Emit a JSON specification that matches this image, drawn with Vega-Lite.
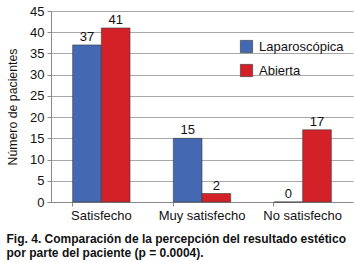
{
  "$schema": "https://vega.github.io/schema/vega-lite/v6.json",
  "width": 302,
  "height": 191,
  "autosize": {"type": "none"},
  "padding": {"left": 51, "top": 11, "right": 1, "bottom": 60},
  "background": "white",
  "config": {
    "font": "Liberation Sans",
    "view": {"stroke": null},
    "axis": {"labelFont": "Liberation Sans", "titleFont": "Liberation Sans"}
  },
  "title": {
    "text": ["Fig. 4. Comparación de la percepción del resultado estético", "por parte del paciente (p = 0.0004)."],
    "orient": "bottom",
    "anchor": "start",
    "frame": "bounds",
    "fontSize": 12,
    "fontWeight": "bold",
    "color": "#111",
    "font": "Liberation Sans",
    "offset": 12,
    "dx": 0,
    "lineHeight": 14
  },
  "data": {
    "values": [
      {"cat": "Satisfecho", "grupo": "Laparoscópica", "n": 37},
      {"cat": "Satisfecho", "grupo": "Abierta", "n": 41},
      {"cat": "Muy satisfecho", "grupo": "Laparoscópica", "n": 15},
      {"cat": "Muy satisfecho", "grupo": "Abierta", "n": 2},
      {"cat": "No satisfecho", "grupo": "Laparoscópica", "n": 0},
      {"cat": "No satisfecho", "grupo": "Abierta", "n": 17}
    ]
  },
  "encoding": {
    "x": {
      "field": "cat",
      "type": "nominal",
      "sort": ["Satisfecho", "Muy satisfecho", "No satisfecho"],
      "scale": {"paddingInner": 0.43, "paddingOuter": 0.215},
      "axis": {
        "title": null,
        "labelAngle": 0,
        "labelFontSize": 13,
        "labelColor": "#111",
        "labelPadding": 3,
        "domainColor": "#888",
        "tickColor": "#888",
        "tickSize": 4,
        "bandPosition": 0,
        "ticks": true
      }
    },
    "xOffset": {
      "field": "grupo",
      "type": "nominal",
      "sort": ["Laparoscópica", "Abierta"],
      "scale": {"paddingInner": 0, "paddingOuter": 0}
    },
    "y": {
      "field": "n",
      "type": "quantitative",
      "scale": {"domain": [0, 45]},
      "axis": {
        "title": "Número de pacientes",
        "titleFontSize": 12.3,
        "titleFontWeight": "normal",
        "titleColor": "#111",
        "titlePadding": 10,
        "values": [0, 5, 10, 15, 20, 25, 30, 35, 40, 45],
        "labelFontSize": 13,
        "labelColor": "#111",
        "labelPadding": 3,
        "tickSize": 4,
        "tickColor": "#888",
        "domainColor": "#888",
        "gridColor": "#a8a8a8",
        "gridWidth": 1
      }
    }
  },
  "layer": [
    {
      "mark": {"type": "bar", "stroke": "#3a3a3a", "strokeWidth": 0.6},
      "encoding": {
        "color": {
          "field": "grupo",
          "type": "nominal",
          "scale": {"domain": ["Laparoscópica", "Abierta"], "range": ["#4468b2", "#d42128"]},
          "legend": {
            "title": null,
            "orient": "none",
            "legendX": 189,
            "legendY": 29,
            "symbolType": "square",
            "symbolSize": 150,
            "symbolStrokeColor": "#333",
            "symbolStrokeWidth": 0.6,
            "labelFontSize": 13,
            "labelColor": "#111",
            "labelFont": "Liberation Sans",
            "rowPadding": 9,
            "labelOffset": 6
          }
        }
      }
    },
    {
      "mark": {"type": "text", "baseline": "bottom", "dy": -1, "fontSize": 13, "color": "#111"},
      "encoding": {
        "text": {"field": "n", "type": "quantitative"}
      }
    }
  ]
}
